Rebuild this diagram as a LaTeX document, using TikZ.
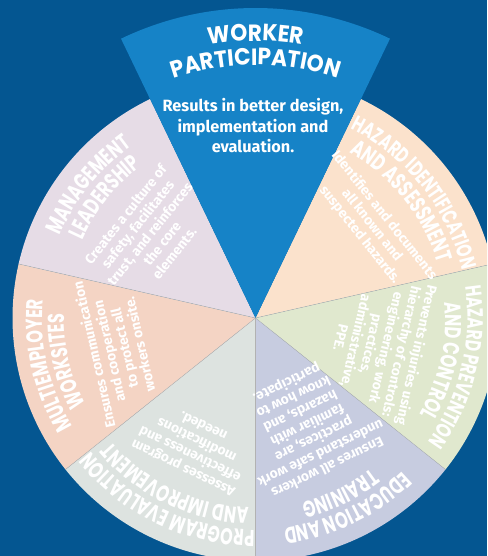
\documentclass[tikz,border=0pt]{standalone}
\usepackage{fontspec}
\setmainfont{Fira Sans}
\newfontfamily\headfont{Poppins}[FakeStretch=0.92]
\newfontfamily\narrowhead{Poppins}[FakeStretch=0.7]
\usepackage{xcolor}
\usetikzlibrary{decorations.text}
\definecolor{bgblue}{HTML}{045691}
\definecolor{wpblue}{HTML}{1683C7}
\definecolor{mgmtcol}{HTML}{E6DCE6}
\definecolor{hazidcol}{HTML}{FBE2CC}
\definecolor{hazprevcol}{HTML}{E0E8CE}
\definecolor{educol}{HTML}{C7CCE0}
\definecolor{progcol}{HTML}{DDE3E0}
\definecolor{multicol}{HTML}{F4D4C4}
% title bent along a circle round the hub: [size] bisector, radius, text
\newcommand\arctitle[4][23]{%
  \path[decorate,decoration={text along path,text align=center,
    text={|\color{white}\narrowhead\bfseries\fontsize{#1}{#1}\selectfont|#4}}]
    ({#2+40}:#3) arc[start angle={#2+40},end angle={#2-40},radius=#3];}

\begin{document}
\begin{tikzpicture}[x=1pt,y=1pt]
    \tikzstyle{sep} = [draw=gray!60,line width=0.4pt]
    \tikzstyle{body} = [text=white,font=\bfseries\fontsize{13.8}{15.6}\selectfont,align=center,anchor=north,inner sep=0pt]
    \tikzstyle{wpbody} = [text=white,font=\bfseries\fontsize{16.3}{20.5}\selectfont,align=center,inner sep=0pt]
    \useasboundingbox (-255.5,-238) rectangle (231.5,318);
    \fill[bgblue] (-255.5,-238) rectangle (231.5,318);
    \clip (-255.5,-238) rectangle (231.5,318);
    \coordinate (hub) at (0,0);
    % the six outer wedges, clockwise from the right of the top one
    \foreach \a/\c in {12.86/hazidcol,-38.57/hazprevcol,-90/educol,-141.43/progcol,-192.86/multicol,-244.29/mgmtcol}
        \fill[\c] (hub) -- (\a:243) arc[start angle=\a,end angle=\a+51.43,radius=243] -- cycle;
    \foreach \a in {12.86,-38.57,-90,-141.43,-192.86}
        \draw[sep] (hub) -- (\a:243);
    \fill[wpblue] (hub) -- (64.29:310) arc[start angle=64.29,end angle=115.71,radius=310] -- cycle;
    % titles
    \path[decorate,decoration={text along path,text align=center,
        text={|\color{white}\headfont\bfseries\fontsize{23.5}{23.5}\selectfont|WORKER}}]
        (130:277) arc[start angle=130,end angle=50,radius=277];
    \path[decorate,decoration={text along path,text align=center,
        text={|\color{white}\headfont\bfseries\fontsize{23.5}{23.5}\selectfont|PARTICIPATION}}]
        (130:253) arc[start angle=130,end angle=50,radius=253];
    \arctitle[21.5]{38.2}{212}{HAZARD IDENTIFICATION}
    \arctitle{38.57}{190}{AND ASSESSMENT}
    \arctitle[22]{-13.5}{212}{HAZARD PREVENTION}
    \arctitle{-12.86}{190}{AND CONTROL}
    \arctitle{-64.29}{212}{EDUCATION AND}
    \arctitle{-64.29}{190}{TRAINING}
    \arctitle{-115.71}{212}{PROGRAM EVALUATION}
    \arctitle{-115.71}{190}{AND IMPROVEMENT}
    \arctitle{-167.14}{213}{MULTIEMPLOYER}
    \arctitle{-167.14}{191}{WORKSITES}
    \arctitle{141.43}{212}{MANAGEMENT}
    \arctitle{141.43}{190}{LEADERSHIP}
    % body texts
    \node[wpbody] (wptext) at (-2.5,192) {Results in better design,\\implementation and\\evaluation.};
    \node[body,rotate=-51.43] (hazidtext) at (38.57:172) {Identifies and documents\\all known and\\suspected hazards.};
    \node[body,rotate=-102.86] (hazprevtext) at (-12.86:172) {Prevents injuries using\\hierarchy of controls:\\engineering, work\\practices,\\administrative,\\PPE.};
    \node[body,rotate=-154.29] (edutext) at (-64.29:172) {Ensures all workers\\understand safe work\\practices, are\\familiar with\\hazards, and\\know how to\\participate.};
    \node[body,rotate=154.29] (progtext) at (-115.71:172) {Assesses program\\effectiveness and\\modifications\\needed.};
    \node[body,rotate=102.86] (multitext) at (-167.14:172) {Ensures communication\\and cooperation\\to protect all\\workers onsite.};
    \node[body,rotate=51.43] (mgmttext) at (141.43:172) {Creates a culture of\\safety, facilitates\\trust, and reinforces\\the core\\elements.};
\end{tikzpicture}
\end{document}
